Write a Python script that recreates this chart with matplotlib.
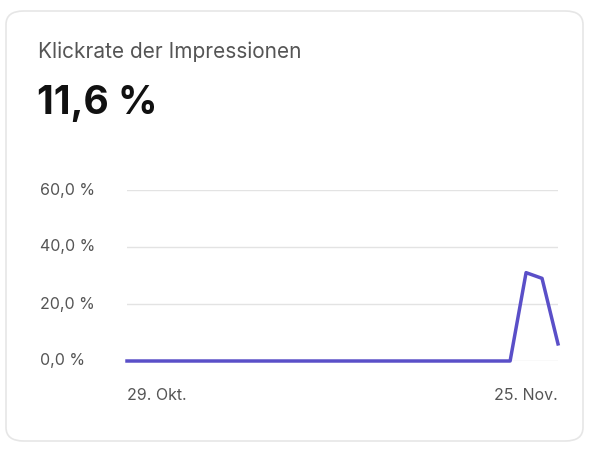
import matplotlib
matplotlib.use("Agg")
import matplotlib.pyplot as plt
from matplotlib.patches import FancyBboxPatch
import numpy as np

days = list(range(28))
values = [0.0]*25 + [31.0, 29.0, 6.0]
yticks = [0, 20, 40, 60]
ytick_labels = ["0,0 %", "20,0 %", "40,0 %", "60,0 %"]
xtick_labels = ["29. Okt.", "25. Nov."]

W, H = 590, 451
fig = plt.figure(figsize=(W/100, H/100), dpi=100)
fig.patch.set_facecolor("white")
card = FancyBboxPatch((6/W, 10/H), 577/W, 430/H, boxstyle="round,pad=0,rounding_size=0.03",
                      transform=fig.transFigure, facecolor="white", edgecolor="#e6e6e6", lw=1.2, zorder=-10)
fig.patches.append(card)
fig.text(38/W, 1-52/H, "Klickrate der Impressionen", fontsize=15, color="#555555", va="center", family="Inter")
fig.text(37/W, 1-104/H, "11,6 %", fontsize=28, fontweight="bold", color="#111111", va="center", family="Inter")

ax = fig.add_axes([127/W, 1-361/H, (558-127)/W, (361-190)/H])
ax.set_facecolor("none")
ax.plot(days, values, color="#5a4fc8", lw=2.5, solid_joinstyle="round", clip_on=False)
ax.set_xlim(0, 27)
ax.set_ylim(0, 60)
ax.set_yticks(yticks)
ax.set_yticklabels([])
for v, l in zip(yticks, ytick_labels):
    ax.text(-87/(558-127)*27, v, l, fontsize=11.5, color="#555555", va="center", ha="left", family="Inter")
ax.grid(axis="y", color="#e3e3e3", lw=1)
ax.set_axisbelow(True)
ax.set_xticks([])
ax.tick_params(left=False)
for s in ax.spines.values():
    s.set_visible(False)
ax.text(0, -12, xtick_labels[0], fontsize=11.5, color="#555555", ha="left", va="center", family="Inter")
ax.text(27, -12, xtick_labels[1], fontsize=11.5, color="#555555", ha="right", va="center", family="Inter")
fig.savefig("out.png", dpi=100)
